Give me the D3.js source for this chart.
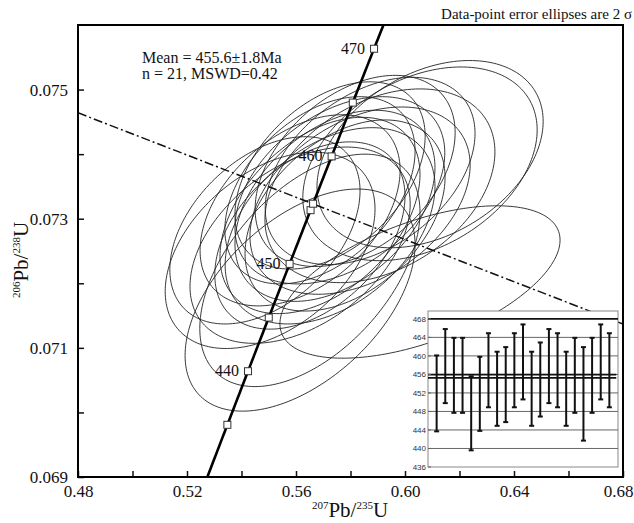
<!DOCTYPE html>
<html>
<head>
<meta charset="utf-8">
<script src="https://cdn.jsdelivr.net/npm/d3@7"></script>
<style>
  body { margin: 0; background: #fff; }
  text { font-family: "Liberation Serif", "Times New Roman", serif; fill: #111; }
</style>
</head>
<body>
<svg id="chart" width="634" height="523"></svg>
<script>
// ---- data ----

// axis ticks
const xTickValues = [0.48, 0.50, 0.52, 0.54, 0.56, 0.58, 0.60, 0.62, 0.64, 0.66, 0.68];
const xTickLabels = ["0.48", "", "0.52", "", "0.56", "", "0.60", "", "0.64", "", "0.68"];
const yTickValues = [0.069, 0.070, 0.071, 0.072, 0.073, 0.074, 0.075];
const yTickLabels = ["0.069", "", "0.071", "", "0.073", "", "0.075"];

// error ellipses (2 sigma): centre 207Pb/235U, centre 206Pb/238U, 2s errors, rho
const ellX   = [0.5615, 0.5761, 0.5688, 0.5835, 0.5615, 0.5505, 0.5908, 0.5651, 0.5725, 0.5872, 0.6055,
                0.5486, 0.5780, 0.5817, 0.5688, 0.6055, 0.5615, 0.5651, 0.5743, 0.6092, 0.5725];
const ellY   = [0.07259, 0.07344, 0.07305, 0.07328, 0.07174, 0.07251, 0.07351, 0.07274, 0.07289, 0.07374, 0.07385,
                0.07282, 0.07305, 0.07374, 0.07344, 0.07202, 0.07313, 0.07220, 0.07320, 0.07400, 0.07367];
const ellSX  = [0.0404, 0.0385, 0.0367, 0.0404, 0.0422, 0.0385, 0.0422, 0.0349, 0.0385, 0.0385, 0.0430,
                0.0349, 0.0367, 0.0367, 0.0349, 0.0514, 0.0367, 0.0404, 0.0367, 0.0415, 0.0349];
const ellSY  = [0.00152, 0.00145, 0.00152, 0.00145, 0.00172, 0.00152, 0.00150, 0.00145, 0.00152, 0.00145, 0.00150,
                0.00145, 0.00148, 0.00148, 0.00145, 0.00118, 0.00148, 0.00180, 0.00148, 0.00145, 0.00145];
const ellRho = [0.42, 0.40, 0.42, 0.38, 0.50, 0.42, 0.35, 0.42, 0.40, 0.40, 0.35,
                0.42, 0.40, 0.40, 0.42, 0.55, 0.42, 0.50, 0.40, 0.35, 0.42];

// concordia tick ages (Ma) and which of them carry a label
const concordiaAges = [435, 440, 445, 450, 455, 460, 465, 470];
const labelledAges = [440, 450, 460, 470];
const meanAge = 455.6;

// dash-dot reference line end points
const refLineX = [0.48, 0.68];
const refLineY = [0.07464, 0.07137];

// inset: 206Pb/238U ages of the 21 spots and their 2s errors
const spotAges = [451.9, 457.8, 455.8, 455.8, 447.6, 451.8, 456.9, 452.9, 453.8, 456.9, 458.7,
                  452.9, 454.9, 457.8, 456.9, 452.9, 455.8, 451.8, 455.8, 458.7, 456.9];
const spotErr  = [8.2, 8.0, 8.1, 8.1, 8.0, 8.0, 8.0, 8.0, 8.1, 8.0, 8.1,
                  8.0, 8.0, 8.0, 8.0, 8.0, 8.1, 10.1, 8.1, 8.1, 8.0];
const insetTicks = [436, 440, 444, 448, 452, 456, 460, 464, 468];

// ---- layout ----
const svg = d3.select("#chart");
const plot = { left: 78, right: 623, top: 25, bottom: 477 };

const x = d3.scaleLinear().domain([0.48, 0.68]).range([plot.left, plot.right]);
const y = d3.scaleLinear().domain([0.069, 0.076]).range([plot.bottom, plot.top]);

svg.append("defs").append("clipPath").attr("id", "clip")
  .append("rect")
  .attr("x", plot.left).attr("y", plot.top)
  .attr("width", plot.right - plot.left).attr("height", plot.bottom - plot.top);

const inner = svg.append("g").attr("clip-path", "url(#clip)");

// ellipses
const thetas = d3.range(0, 2 * Math.PI, Math.PI / 90);
const ellLine = d3.line().curve(d3.curveLinearClosed);
ellX.forEach((cx, i) => {
  const pts = thetas.map(t => {
    const c = Math.cos(t), s = Math.sin(t);
    const px = cx + ellSX[i] * c;
    const py = ellY[i] + ellSY[i] * (ellRho[i] * c + Math.sqrt(1 - ellRho[i] * ellRho[i]) * s);
    return [x(px), y(py)];
  });
  inner.append("path")
    .attr("d", ellLine(pts))
    .attr("fill", "none")
    .attr("stroke", "#222")
    .attr("stroke-width", 0.9);
});

// concordia
const L238 = 1.55125e-4, L235 = 9.8485e-4;
const r206 = t => Math.exp(L238 * t) - 1;
const r207 = t => Math.exp(L235 * t) - 1;
const concLine = d3.line().x(t => x(r207(t))).y(t => y(r206(t)));
inner.append("path")
  .attr("d", concLine(d3.range(420, 486, 0.5)))
  .attr("fill", "none")
  .attr("stroke", "#000")
  .attr("stroke-width", 2.6);

// inset panel
const xi = d3.scaleLinear().domain([0, 22]).range([428, 618]);
const yi = d3.scaleLinear().domain([436, 469.7]).range([467, 311]);
const inset = svg.append("g");
inset.append("rect")
  .attr("x", xi(0)).attr("y", yi(469.7))
  .attr("width", xi(22) - xi(0)).attr("height", yi(436) - yi(469.7))
  .attr("fill", "#fff").attr("stroke", "#888").attr("stroke-width", 1);
insetTicks.filter(v => v > 436 && v < 468).forEach(v => {
  inset.append("line")
    .attr("x1", xi(0)).attr("x2", xi(22))
    .attr("y1", yi(v)).attr("y2", yi(v))
    .attr("stroke", "#666").attr("stroke-width", 1);
});
inset.append("line")
  .attr("x1", xi(0)).attr("x2", xi(22))
  .attr("y1", yi(468)).attr("y2", yi(468))
  .attr("stroke", "#111").attr("stroke-width", 1.8);
[meanAge + 0.35, meanAge - 0.35].forEach(v => {
  inset.append("line")
    .attr("x1", xi(0)).attr("x2", xi(21.8))
    .attr("y1", yi(v)).attr("y2", yi(v))
    .attr("stroke", "#111").attr("stroke-width", 1.8);
});
inset.selectAll(".ilab").data(insetTicks).enter().append("text")
  .attr("x", xi(0) - 2).attr("y", d => yi(d) + 3)
  .attr("text-anchor", "end")
  .style("font-family", "'Liberation Sans', Arial, sans-serif")
  .style("font-size", "8px")
  .style("fill", "#333")
  .text(d => d);
insetTicks.forEach(v => {
  inset.append("line")
    .attr("x1", xi(0)).attr("x2", xi(0) + 3)
    .attr("y1", yi(v)).attr("y2", yi(v))
    .attr("stroke", "#666");
});
spotAges.forEach((a, i) => {
  const bx = xi(i + 1);
  const g = inset.append("g").attr("stroke", "#111");
  g.append("line").attr("x1", bx).attr("x2", bx)
    .attr("y1", yi(a + spotErr[i])).attr("y2", yi(a - spotErr[i]))
    .attr("stroke-width", 2);
  [a + spotErr[i], a - spotErr[i]].forEach(v => {
    g.append("line").attr("x1", bx - 2.5).attr("x2", bx + 2.5)
      .attr("y1", yi(v)).attr("y2", yi(v)).attr("stroke-width", 2);
  });
});

// dash-dot line
inner.append("line")
  .attr("x1", x(refLineX[0])).attr("y1", y(refLineY[0]))
  .attr("x2", x(refLineX[1])).attr("y2", y(refLineY[1]))
  .attr("stroke", "#111")
  .attr("stroke-width", 1.5)
  .attr("stroke-dasharray", "9,3,2,3");

// concordia age markers
concordiaAges.concat([meanAge]).forEach(t => {
  inner.append("rect")
    .attr("x", x(r207(t)) - 3.5).attr("y", y(r206(t)) - 3.5)
    .attr("width", 7).attr("height", 7)
    .attr("fill", "#fff").attr("stroke", "#333").attr("stroke-width", 1);
});
labelledAges.forEach(t => {
  svg.append("text")
    .attr("x", x(r207(t)) - 9).attr("y", y(r206(t)) + 5)
    .attr("text-anchor", "end")
    .style("font-size", "16px")
    .text(t);
});

// axes
const xAxis = d3.axisBottom(x).tickValues(xTickValues)
  .tickSizeInner(-6).tickSizeOuter(0).tickPadding(8)
  .tickFormat((d, i) => xTickLabels[i]);
const gx = svg.append("g").attr("transform", `translate(0,${plot.bottom})`).call(xAxis);
gx.select(".domain").remove();
gx.selectAll("text").style("font-size", "17px").style("font-family", "'Liberation Serif', serif");
gx.selectAll(".tick").filter(d => d === 0.68).select("text")
  .attr("text-anchor", "end").attr("x", 10);

const yAxis = d3.axisLeft(y).tickValues(yTickValues)
  .tickSizeInner(-6).tickSizeOuter(0).tickPadding(10)
  .tickFormat((d, i) => yTickLabels[i]);
const gy = svg.append("g").attr("transform", `translate(${plot.left},0)`).call(yAxis);
gy.select(".domain").remove();
gy.selectAll("text").style("font-size", "17px").style("font-family", "'Liberation Serif', serif");
svg.selectAll(".tick line").attr("stroke", "#111").attr("stroke-width", 1.5);

// frame
svg.append("rect")
  .attr("x", plot.left).attr("y", plot.top)
  .attr("width", plot.right - plot.left).attr("height", plot.bottom - plot.top)
  .attr("fill", "none").attr("stroke", "#000").attr("stroke-width", 2);

// axis titles
const xt = svg.append("text").attr("x", 350).attr("y", 517).attr("text-anchor", "middle")
  .style("font-size", "21px");
xt.append("tspan").attr("dy", -8).style("font-size", "11px").text("207");
xt.append("tspan").attr("dy", 8).text("Pb/");
xt.append("tspan").attr("dy", -8).style("font-size", "11px").text("235");
xt.append("tspan").attr("dy", 8).text("U");

const yt = svg.append("text").attr("transform", "translate(28,260) rotate(-90)")
  .attr("text-anchor", "middle").style("font-size", "21px");
yt.append("tspan").attr("dy", -8).style("font-size", "11px").text("206");
yt.append("tspan").attr("dy", 8).text("Pb/");
yt.append("tspan").attr("dy", -8).style("font-size", "11px").text("238");
yt.append("tspan").attr("dy", 8).text("U");

// annotations
svg.append("text").attr("x", 142).attr("y", 63).style("font-size", "16px")
  .text("Mean = 455.6\u00B11.8Ma");
svg.append("text").attr("x", 142).attr("y", 79).style("font-size", "16px")
  .text("n = 21, MSWD=0.42");
svg.append("text").attr("x", 632).attr("y", 19).attr("text-anchor", "end")
  .style("font-size", "15px")
  .text("Data-point error ellipses are 2 \u03C3");
</script>
</body>
</html>
